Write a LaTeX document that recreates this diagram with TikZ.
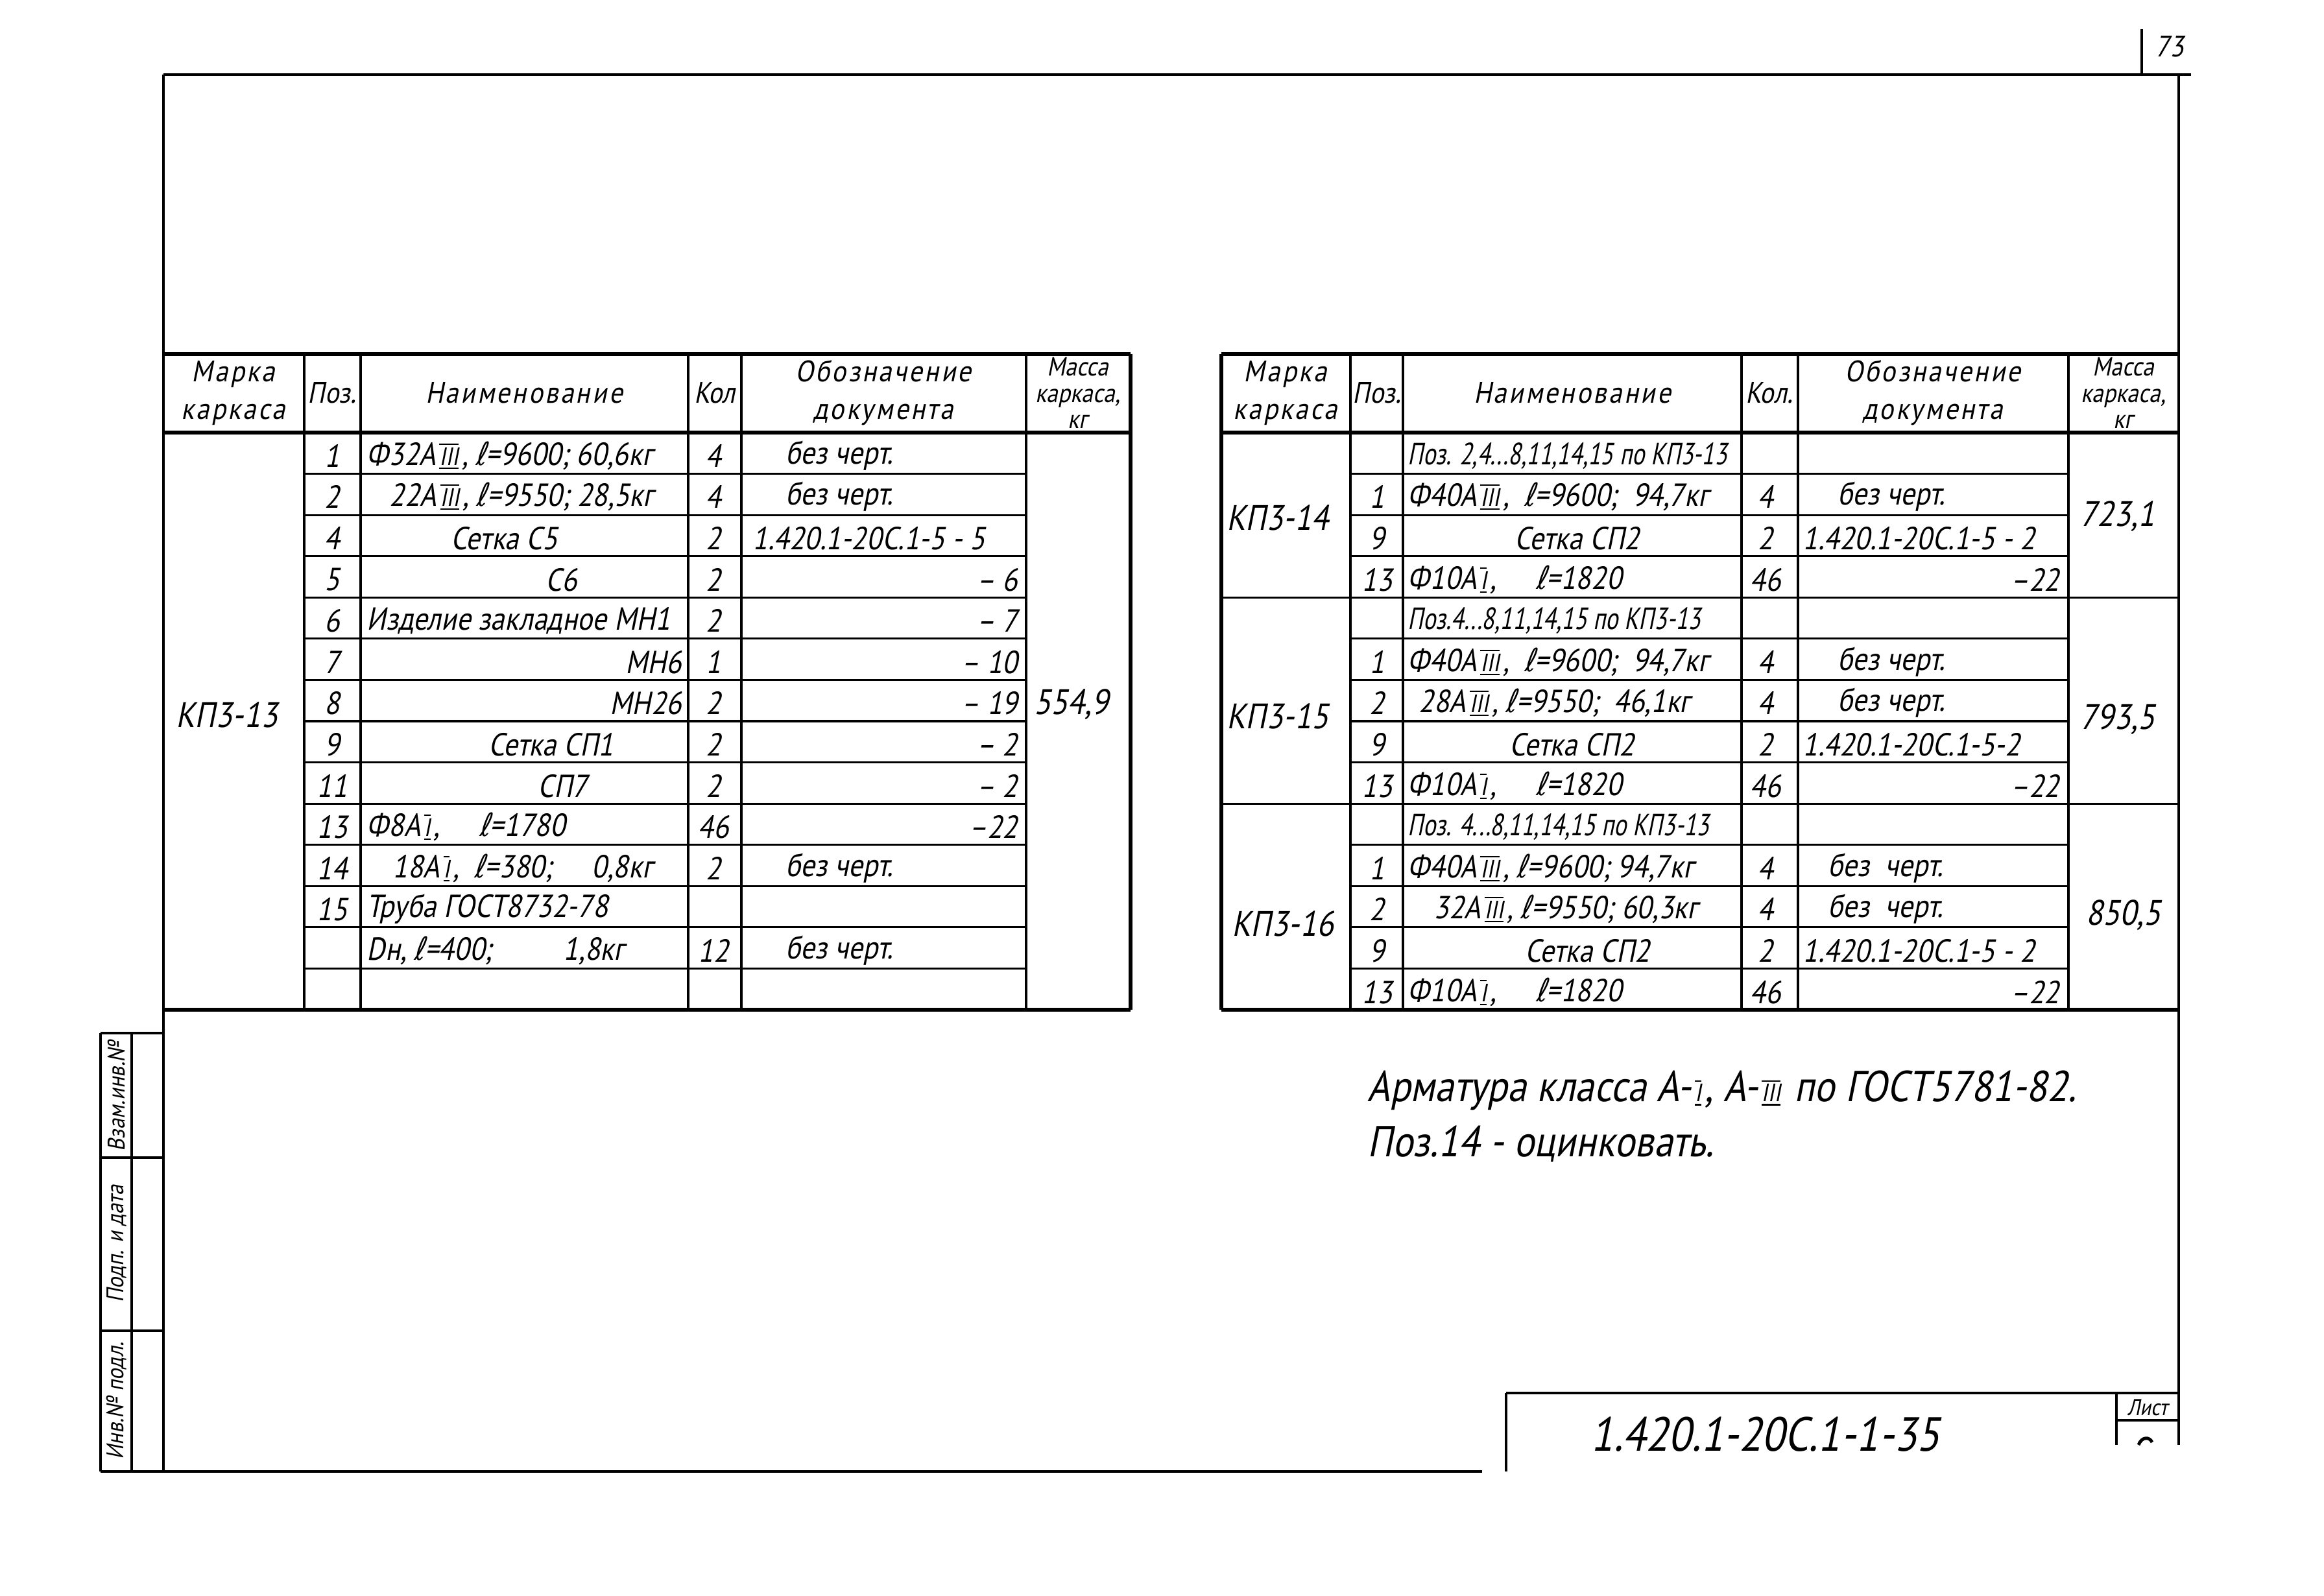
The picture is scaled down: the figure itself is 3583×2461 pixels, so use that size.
\documentclass[tikz,border=0pt]{standalone}
\usepackage{fontspec}
\setmainfont{PT Sans}[FakeSlant=0.2,FakeStretch=0.88]
\newfontfamily\condf{PT Sans}[FakeSlant=0.2,FakeStretch=0.76]
\newfontfamily\hdf{PT Sans}[FakeSlant=0.2,FakeStretch=0.9,LetterSpace=7]
\newfontfamily\dvf{DejaVu Sans}[FakeSlant=0.2,FakeStretch=0.8]
\newsavebox\rnbox
\newcommand\rn[1]{\kern1.5pt\sbox\rnbox{\fontsize{11}{11}\selectfont #1}%
  \rlap{\rule[-1.6pt]{\wd\rnbox}{0.6pt}}%
  \rlap{\rule[\dimexpr\ht\rnbox+1.2pt\relax]{\wd\rnbox}{0.6pt}}%
  \usebox\rnbox\kern1.5pt}
\newcommand\el{{\dvf ℓ}}
\tikzset{
  frm/.style={line width=1.3pt},
  tb/.style={line width=1.6pt},
  tn/.style={line width=0.9pt},
  tx/.style={inner sep=0pt, font=\fontsize{14}{16}\selectfont},
  big/.style={inner sep=0pt, font=\fontsize{15.5}{18}\selectfont},
  cnd/.style={inner sep=0pt, anchor=west, font=\condf\fontsize{13.5}{16}\selectfont},
  hd/.style={inner sep=0pt, align=center, font=\hdf\fontsize{13}{16.5}\selectfont},
  hn/.style={inner sep=0pt, align=center, font=\fontsize{13}{16.5}\selectfont},
  sm/.style={inner sep=0pt, align=center, font=\fontsize{11.5}{11.5}\selectfont},
  sd/.style={inner sep=0pt, rotate=90, font=\fontsize{10.5}{12}\selectfont},
  note/.style={inner sep=0pt, anchor=west, font=\fontsize{19}{22}\selectfont},
}
\begin{document}
\begin{tikzpicture}[x=0.01cm,y=-0.01cm]
\useasboundingbox (0,0) rectangle (3583,2461);
% ---------- frame ----------
\draw[frm] (252,115) -- (3378,115);
\draw[frm] (3302,45) -- (3302,115);
\draw[frm] (252,115) -- (252,2269);
\draw[frm] (3359,115) -- (3359,2228);
\draw[frm] (155,2269) -- (2285,2269);
\node[inner sep=0pt, font=\fontsize{13}{15}\selectfont] (pg) at (3345,72) {73};
% ---------- side strip ----------
\draw[frm] (155,1593) -- (252,1593);
\draw[frm] (155,1593) -- (155,2269);
\draw[frm] (203,1593) -- (203,2269);
\draw[tn] (155,1785) -- (252,1785);
\draw[tn] (155,2052) -- (252,2052);
\node[sd] (s1) at (180,1690) {Взам.инв.№};
\node[sd] (s2) at (180,1918) {Подп. и дата};
\node[sd] (s3) at (180,2160) {Инв.№ подл.};
% ---------- title block ----------
\draw[frm] (2322,2148) -- (3359,2148);
\draw[frm] (2322,2148) -- (2322,2269);
\draw[tn] (3263,2148) -- (3263,2228);
\draw[tn] (3263,2190) -- (3359,2190);
\node[inner sep=0pt, font=\fontsize{10}{11}\selectfont] (lst) at (3311,2170) {Лист};
\draw[line width=1.4pt] (3297,2228) .. controls (3302,2215) and (3314,2215) .. (3318,2224);
\node[inner sep=0pt, font=\fontsize{21}{24}\selectfont] (oz) at (2722,2212) {1.420.1-20С.1-1-35};
% ---------- notes ----------
\node[note] (n1) at (2108,1682) {Арматура класса А-\rn{I}, А-\rn{III}\ по ГОСТ5781-82.};
\node[note] (n2) at (2108,1764) {Поз.14 - оцинковать.};

% ================= LEFT TABLE =================
\draw[tb] (252,546) -- (1743,546);
\draw[tb] (252,667) -- (1743,667);
\draw[tb] (252,1557) -- (1743,1557);
\draw[tb] (1743,546) -- (1743,1557);
\foreach \x in {469,556,1061,1143,1582} \draw[tn] (\x,546) -- (\x,1557);
\foreach \i in {1,...,13} \draw[tn] (469,{667+\i*63.57}) -- (1582,{667+\i*63.57});
% header
\node[hd] (lh1) at (360,606) {Марка\\каркаса};
\node[hn] (lh2) at (512,606) {Поз.};
\node[hd] (lh3) at (808,606) {Наименование};
\node[hn] (lh4) at (1102,606) {Кол};
\node[hd] (lh5) at (1362,606) {Обозначение\\документа};
\node[sm] (lh6) at (1662,606) {Масса\\каркаса,\\кг};
% marka / mass
\node[big] (lm) at (350,1102) {КП3-13};
\node[big] (lw) at (1652,1086) {554,9};
% rows
\node[tx] (lp1) at (512,703) {1};
\node[tx,anchor=west] (ln1) at (565,703) {Ф32А\rn{III}, \el=9600; 60,6кг};
\node[tx] (lk1) at (1100,703) {4};
\node[tx,anchor=west] (lo1) at (1211,703) {без черт.};

\node[tx] (lp2) at (512,766) {2};
\node[tx,anchor=west] (ln2) at (600,766) {22А\rn{III}, \el=9550; 28,5кг};
\node[tx] (lk2) at (1100,766) {4};
\node[tx,anchor=west] (lo2) at (1211,766) {без черт.};

\node[tx] (lp3) at (512,830) {4};
\node[tx] (ln3) at (778,830) {Сетка С5};
\node[tx] (lk3) at (1100,830) {2};
\node[tx,anchor=west] (lo3) at (1160,830) {1.420.1-20С.1-5 - 5};

\node[tx] (lp4) at (512,894) {5};
\node[tx] (ln4) at (866,894) {С6};
\node[tx] (lk4) at (1100,894) {2};
\node[tx,anchor=east] (lo4) at (1570,894) {– 6};

\node[tx] (lp5) at (512,957) {6};
\node[tx,anchor=west] (ln5) at (565,957) {Изделие закладное МН1};
\node[tx] (lk5) at (1100,957) {2};
\node[tx,anchor=east] (lo5) at (1570,957) {– 7};

\node[tx] (lp6) at (512,1021) {7};
\node[tx,anchor=east] (ln6) at (1052,1021) {МН6};
\node[tx] (lk6) at (1100,1021) {1};
\node[tx,anchor=east] (lo6) at (1570,1021) {– 10};

\node[tx] (lp7) at (512,1084) {8};
\node[tx,anchor=east] (ln7) at (1052,1084) {МН26};
\node[tx] (lk7) at (1100,1084) {2};
\node[tx,anchor=east] (lo7) at (1570,1084) {– 19};

\node[tx] (lp8) at (512,1148) {9};
\node[tx] (ln8) at (850,1148) {Сетка СП1};
\node[tx] (lk8) at (1100,1148) {2};
\node[tx,anchor=east] (lo8) at (1570,1148) {– 2};

\node[tx] (lp9) at (512,1212) {11};
\node[tx] (ln9) at (868,1212) {СП7};
\node[tx] (lk9) at (1100,1212) {2};
\node[tx,anchor=east] (lo9) at (1570,1212) {– 2};

\node[tx] (lp10) at (512,1275) {13};
\node[tx,anchor=west] (ln10) at (565,1275) {Ф8А\rn{I}, \quad\el=1780};
\node[tx] (lk10) at (1100,1275) {46};
\node[tx,anchor=east] (lo10) at (1570,1275) {–22};

\node[tx] (lp11) at (512,1339) {14};
\node[tx,anchor=west] (ln11) at (605,1339) {18А\rn{I}, \ \el=380; \quad 0,8кг};
\node[tx] (lk11) at (1100,1339) {2};
\node[tx,anchor=west] (lo11) at (1211,1339) {без черт.};

\node[tx] (lp12) at (512,1402) {15};
\node[tx,anchor=west] (ln12) at (565,1402) {Труба ГОСТ8732-78};

\node[tx,anchor=west] (ln13) at (565,1466) {Dн, \el=400; \qquad 1,8кг};
\node[tx] (lk13) at (1100,1466) {12};
\node[tx,anchor=west] (lo13) at (1211,1466) {без черт.};

% ================= RIGHT TABLE =================
\draw[tb] (1883,546) -- (3359,546);
\draw[tb] (1883,667) -- (3359,667);
\draw[tb] (1883,1557) -- (3359,1557);
\draw[tb] (1883,546) -- (1883,1557);
\foreach \x in {2082,2163,2685,2772,3189} \draw[tn] (\x,546) -- (\x,1557);
\foreach \i in {1,2,3,5,6,7,8,10,11,12,13} \draw[tn] (2082,{667+\i*63.57}) -- (3189,{667+\i*63.57});
\foreach \i in {4,9} \draw[tn] (1883,{667+\i*63.57}) -- (3359,{667+\i*63.57});
% header
\node[hd] (rh1) at (1982,606) {Марка\\каркаса};
\node[hn] (rh2) at (2123,606) {Поз.};
\node[hd] (rh3) at (2424,606) {Наименование};
\node[hn] (rh4) at (2728,606) {Кол.};
\node[hd] (rh5) at (2980,606) {Обозначение\\документа};
\node[sm] (rh6) at (3274,606) {Масса\\каркаса,\\кг};
% marka / mass
\node[big] (rm1) at (1970,798) {КП3-14};
\node[big] (rw1) at (3265,796) {723,1};
\node[big] (rm2) at (1970,1104) {КП3-15};
\node[big] (rw2) at (3265,1109) {793,5};
\node[big] (rm3) at (1978,1424) {КП3-16};
\node[big] (rw3) at (3274,1411) {850,5};
% group 14
\node[cnd] (rn1) at (2170,703) {Поз. 2,4...8,11,14,15 по КП3-13};
\node[tx] (rp2) at (2123,766) {1};
\node[tx,anchor=west] (rn2) at (2170,766) {Ф40А\rn{III}, \ \el=9600; \ 94,7кг};
\node[tx] (rk2) at (2722,766) {4};
\node[tx,anchor=west] (ro2) at (2833,766) {без черт.};
\node[tx] (rp3) at (2123,830) {9};
\node[tx] (rn3) at (2432,830) {Сетка СП2};
\node[tx] (rk3) at (2722,830) {2};
\node[tx,anchor=west] (ro3) at (2779,830) {1.420.1-20С.1-5 - 2};
\node[tx] (rp4) at (2123,894) {13};
\node[tx,anchor=west] (rn4) at (2170,894) {Ф10А\rn{I}, \quad\el=1820};
\node[tx] (rk4) at (2722,894) {46};
\node[tx,anchor=east] (ro4) at (3176,894) {–22};
% group 15
\node[cnd] (rn5) at (2170,957) {Поз.4...8,11,14,15 по КП3-13};
\node[tx] (rp6) at (2123,1021) {1};
\node[tx,anchor=west] (rn6) at (2170,1021) {Ф40А\rn{III}, \ \el=9600; \ 94,7кг};
\node[tx] (rk6) at (2722,1021) {4};
\node[tx,anchor=west] (ro6) at (2833,1021) {без черт.};
\node[tx] (rp7) at (2123,1084) {2};
\node[tx,anchor=west] (rn7) at (2187,1084) {28А\rn{III}, \el=9550; \ 46,1кг};
\node[tx] (rk7) at (2722,1084) {4};
\node[tx,anchor=west] (ro7) at (2833,1084) {без черт.};
\node[tx] (rp8) at (2123,1148) {9};
\node[tx] (rn8) at (2424,1148) {Сетка СП2};
\node[tx] (rk8) at (2722,1148) {2};
\node[tx,anchor=west] (ro8) at (2779,1148) {1.420.1-20С.1-5-2};
\node[tx] (rp9) at (2123,1212) {13};
\node[tx,anchor=west] (rn9) at (2170,1212) {Ф10А\rn{I}, \quad\el=1820};
\node[tx] (rk9) at (2722,1212) {46};
\node[tx,anchor=east] (ro9) at (3176,1212) {–22};
% group 16
\node[cnd] (rn10) at (2170,1275) {Поз. 4...8,11,14,15 по КП3-13};
\node[tx] (rp11) at (2123,1339) {1};
\node[tx,anchor=west] (rn11) at (2170,1339) {Ф40А\rn{III}, \el=9600; 94,7кг};
\node[tx] (rk11) at (2722,1339) {4};
\node[tx,anchor=west] (ro11) at (2818,1339) {без \ черт.};
\node[tx] (rp12) at (2123,1402) {2};
\node[tx,anchor=west] (rn12) at (2210,1402) {32А\rn{III}, \el=9550; 60,3кг};
\node[tx] (rk12) at (2722,1402) {4};
\node[tx,anchor=west] (ro12) at (2818,1402) {без \ черт.};
\node[tx] (rp13) at (2123,1466) {9};
\node[tx] (rn13) at (2448,1466) {Сетка СП2};
\node[tx] (rk13) at (2722,1466) {2};
\node[tx,anchor=west] (ro13) at (2779,1466) {1.420.1-20С.1-5 - 2};
\node[tx] (rp14) at (2123,1530) {13};
\node[tx,anchor=west] (rn14) at (2170,1530) {Ф10А\rn{I}, \quad\el=1820};
\node[tx] (rk14) at (2722,1530) {46};
\node[tx,anchor=east] (ro14) at (3176,1530) {–22};
\end{tikzpicture}
\end{document}
